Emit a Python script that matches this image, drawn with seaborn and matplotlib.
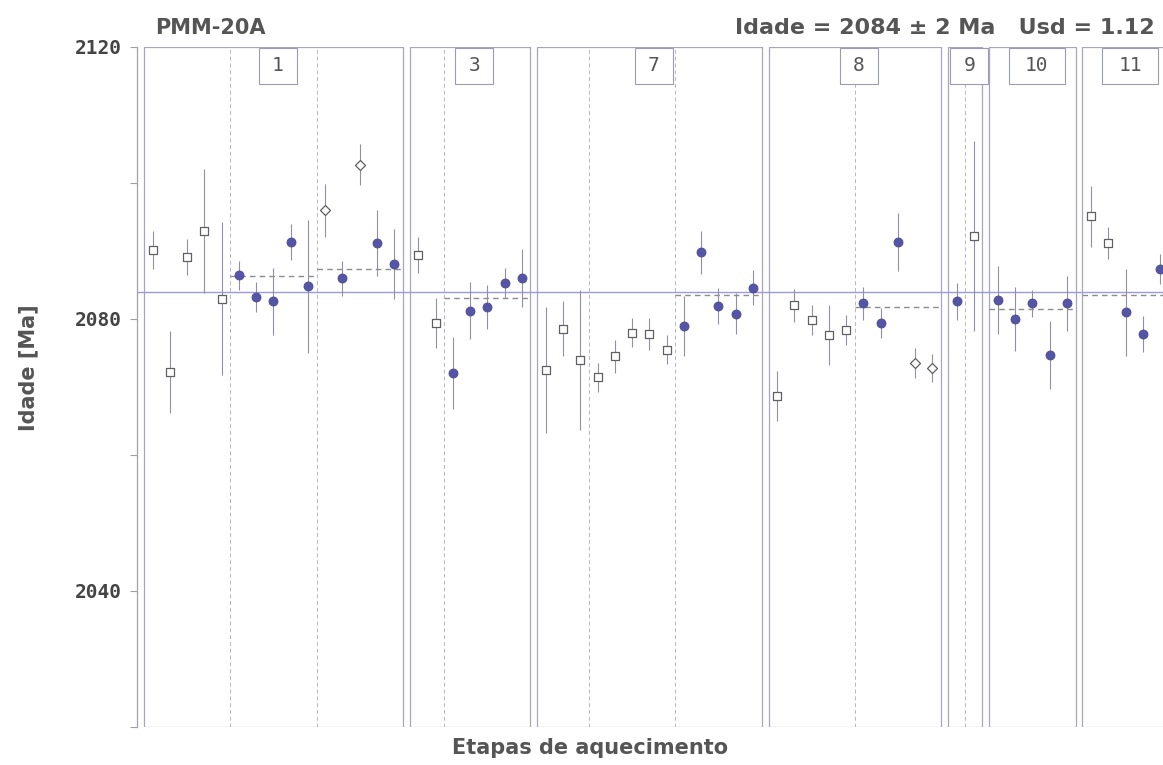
import numpy as np
import pandas as pd
import matplotlib
matplotlib.use("Agg")
import matplotlib.pyplot as plt
from matplotlib.patches import Rectangle
import seaborn as sns

sns.set_theme(style="white")
plt.rcParams['font.family'] = ['DejaVu Sans']

# heating-step ages per aliquot (Ma), 1-sigma errors, and point type
# S = open square (excluded), F = filled (used in mean), D = open diamond
panel_names = ["1", "3", "7", "8", "9", "10", "11"]

ages_1 = [2090.2, 2072.2, 2089.1, 2092.9, 2083.0, 2086.4, 2083.3, 2082.6,
          2091.3, 2084.8, 2096.0, 2086.0, 2102.7, 2091.2, 2088.1]
errs_1 = [2.8, 6.0, 2.6, 9.1, 11.3, 2.2, 2.2, 4.9, 2.6, 9.8, 3.9, 2.6, 3.0, 4.9, 5.2]
kind_1 = "SSSSSFFFFFDFDFF"

ages_3 = [2089.4, 2079.4, 2072.1, 2081.2, 2081.8, 2085.3, 2086.0]
errs_3 = [2.6, 3.7, 5.3, 4.2, 3.2, 2.2, 4.3]
kind_3 = "SSFFFFF"

ages_7 = [2072.5, 2078.6, 2074.0, 2071.4, 2074.5, 2078.0, 2077.8, 2075.5,
          2079.0, 2089.8, 2081.9, 2080.8, 2084.6]
errs_7 = [9.3, 4.0, 10.3, 2.2, 2.4, 2.1, 2.4, 2.1, 4.4, 3.2, 2.6, 3.0, 2.6]
kind_7 = "SSSSSSSSFFFFF"

ages_8 = [2068.7, 2082.0, 2079.8, 2077.6, 2078.4, 2082.3, 2079.4, 2091.3, 2073.5, 2072.8]
errs_8 = [3.7, 2.4, 2.2, 4.4, 2.2, 2.4, 2.2, 4.3, 2.2, 2.1]
kind_8 = "SSSSSFFFDD"

ages_9 = [2082.6, 2092.2]
errs_9 = [2.7, 14.0]
kind_9 = "FS"

ages_10 = [2082.8, 2080.0, 2082.3, 2074.7, 2082.3]
errs_10 = [5.0, 4.7, 2.0, 5.0, 4.0]
kind_10 = "FFFFF"

ages_11 = [2095.1, 2091.2, 2081.0, 2077.8, 2087.3]
errs_11 = [4.5, 2.4, 6.4, 2.7, 2.2]
kind_11 = "SSFFF"

# step index where a new heating section begins (inner dashed lines)
section_breaks = [[5, 10], [2], [3, 8], [5], [1], [], []]

# plateau means: (panel index, first step, last step, age)
plateaus = [(0, 5, 9, 2086.3), (0, 10, 14, 2087.4), (1, 2, 6, 2083.1),
            (2, 8, 12, 2083.5), (3, 5, 9, 2081.8), (5, 0, 4, 2081.4),
            (6, 0, 4, 2083.5)]

mean_age = 2084

all_ages = [ages_1, ages_3, ages_7, ages_8, ages_9, ages_10, ages_11]
all_errs = [errs_1, errs_3, errs_7, errs_8, errs_9, errs_10, errs_11]
all_kind = [kind_1, kind_3, kind_7, kind_8, kind_9, kind_10, kind_11]

# layout of panels along the x axis
gap = 0.4
offsets = []
pos = 0.0
for a in all_ages:
    offsets.append(pos)
    pos += len(a) + gap

rows = []
for p, (a, e, k) in enumerate(zip(all_ages, all_errs, all_kind)):
    for i in range(len(a)):
        rows.append(dict(panel=panel_names[p], x=offsets[p] + i, age=a[i], err=e[i], kind=k[i]))
df = pd.DataFrame(rows)

fig = plt.figure(figsize=(11.63, 7.65), dpi=100)
ax = fig.add_axes([137 / 1163, 1 - 727 / 765, 1 - 137 / 1163, (727 - 47) / 765])
ax.set_xlim(-0.91, 58.57)
ax.set_ylim(2020, 2120)

ymin, ymax = 2020, 2120
panel_ec = '#a9a3bb'
for p, a in enumerate(all_ages):
    left = offsets[p] - 0.5
    ax.add_patch(Rectangle((left, ymin), len(a), ymax - ymin, fill=False,
                           ec=panel_ec, lw=0.9, zorder=1))
    for b in section_breaks[p]:
        ax.plot([offsets[p] + b - 0.5] * 2, [ymin, ymax], color='#b4b4cc',
                lw=0.7, ls=(0, (4, 3)), zorder=1)
    # label box at the top of each panel
    cx = left + len(a) / 2 + 0.25
    w = (20 + 18 * len(panel_names[p])) / 17.25
    ax.add_patch(Rectangle((cx - w / 2, 2114.6), w, 5.3, fc='white', ec='#9c9cb0',
                           lw=0.8, zorder=3))
    ax.text(cx, 2117.3, panel_names[p], ha='center', va='center', fontsize=14,
            family='DejaVu Sans Mono', color='#555555', zorder=4)

ax.axhline(mean_age, color='#9a9ae0', lw=1.0, zorder=2)

for p, s, e, v in plateaus:
    x0 = offsets[p] + s - 0.5
    x1 = offsets[p] + e + 0.5
    ax.plot([x0, x1], [v, v], color='#8c8c8c', lw=1.0, ls=(0, (4, 3)), zorder=2)

ax.vlines(df['x'], df['age'] - df['err'], df['age'] + df['err'],
          color='#948ea4', lw=0.8, zorder=3)

styles = {'S': dict(marker='s', s=38, facecolor='white', edgecolor='#606060', linewidth=0.9),
          'F': dict(marker='o', s=42, facecolor='#5555a5', edgecolor='#4a4a98', linewidth=0.6),
          'D': dict(marker='D', s=26, facecolor='white', edgecolor='#606060', linewidth=0.9)}
for k, st in styles.items():
    sub = df[df['kind'] == k]
    sns.scatterplot(data=sub, x='x', y='age', ax=ax, zorder=5, legend=False, **st)

sns.despine(ax=ax, top=True, right=True, bottom=True)
ax.spines['left'].set_color('#a0a0b0')
ax.spines['left'].set_linewidth(0.9)
ax.set_xticks([])
ax.set_yticks(np.arange(2020, 2121, 20))
ax.set_yticklabels(['' if t not in (2040, 2080, 2120) else str(t)
                    for t in np.arange(2020, 2121, 20)])
ax.tick_params(axis='y', left=True, length=5, width=0.8, color='#a0a0b0',
               labelsize=14, labelcolor='#444444', pad=6)
for lab in ax.get_yticklabels():
    lab.set_family('DejaVu Sans Mono')
    lab.set_fontweight('bold')
ax.set_xlabel('')
ax.set_ylabel('')

fig.text(0.024, 0.52, 'Idade [Ma]', rotation=90, ha='center', va='center',
         fontsize=15, fontweight='bold', color='#555555')
fig.text(0.507, 0.022, 'Etapas de aquecimento', ha='center', va='center',
         fontsize=15, fontweight='bold', color='#555555')
fig.text(155 / 1163, 0.963, 'PMM-20A', ha='left', va='center',
         fontsize=15, fontweight='bold', color='#555555')
fig.text(1155 / 1163, 0.963, 'Idade = 2084 ± 2 Ma   Usd = 1.12', ha='right', va='center',
         fontsize=16, fontweight='bold', color='#555555')

fig.savefig('out.png', dpi=100)
